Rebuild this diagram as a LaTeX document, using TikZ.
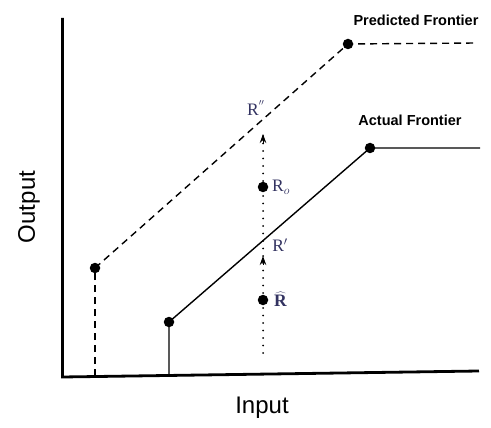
\documentclass[tikz,border=0pt]{standalone}
\usepackage{fontspec}
\setmainfont{Liberation Serif}
\setsansfont{Liberation Sans}
\usetikzlibrary{arrows.meta}
\begin{document}
\begin{tikzpicture}[x=1pt,y=-1pt,
  dotnode/.style={circle,fill=black,inner sep=0pt,minimum size=10.5pt},
  axisline/.style={line width=2.8pt},
  frontier/.style={line width=1.4pt},
  dashfrontier/.style={line width=1.4pt,dash pattern=on 7pt off 5pt},
  dotline/.style={line width=2pt,line cap=round,dash pattern=on 0pt off 7.5pt},
  arrowtip/.style={-{Stealth[length=9pt,width=6.5pt]}},
  title/.style={font=\sffamily\bfseries\fontsize{14.5}{16}\selectfont},
  axlabel/.style={font=\sffamily\fontsize{24}{28}\selectfont},
  rlabel/.style={font=\fontsize{17.5}{20}\selectfont,text=black!70!blue!60!gray,inner sep=0pt}]
\useasboundingbox (0,0) rectangle (491,428);
% axes
\coordinate (O) at (62.5,377);
\coordinate (Ytop) at (62.5,18);
\coordinate (Xend) at (479,371);
\draw[axisline] (Ytop) -- (O) -- (Xend);
% predicted frontier
\coordinate (A0) at (95,376);
\node[dotnode] (A) at (95,268) {};
\node[dotnode] (B) at (348,44) {};
\coordinate (Bend) at (476,43);
\draw[dashfrontier] (A0) -- (A.center);
\draw[dashfrontier] (A.center) -- (B.center) -- (Bend);
% actual frontier
\coordinate (C0) at (169,375);
\node[dotnode] (C) at (169,322) {};
\node[dotnode] (D) at (370,148) {};
\coordinate (Dend) at (480,148);
\draw[frontier] (C0) -- (C.center) -- (D.center) -- (Dend);
% vertical dotted path
\coordinate (Pbot) at (263,353);
\coordinate (Pmid) at (263,256);
\coordinate (Ptop) at (263,134);
\node[dotnode] (Rh) at (263,300) {};
\node[dotnode] (Ro) at (263,187) {};
\draw[dotline] (Pbot) -- (Pmid);
\draw[dotline] (Pmid) -- (Ptop);
\draw[arrowtip,line width=1pt] (263,265) -- (Pmid);
\draw[arrowtip,line width=1pt] (263,143) -- (Ptop);
% labels
\node[rlabel,anchor=west] (LRh) at (274,299) {$\widehat{\mathbf{R}}$};
\node[rlabel,anchor=west] (LRo) at (272,187) {R$_{o}$};
\node[rlabel] (LRp) at (280,245) {R$'$};
\node[rlabel] (LRpp) at (256,108) {R$^{''}$};
\node[title] (TP) at (416,20) {Predicted Frontier};
\node[title] (TA) at (410,120) {Actual Frontier};
\node[axlabel,rotate=90] (YL) at (29,207) {Output};
\node[axlabel] (XL) at (262,408) {Input};
\end{tikzpicture}
\end{document}
